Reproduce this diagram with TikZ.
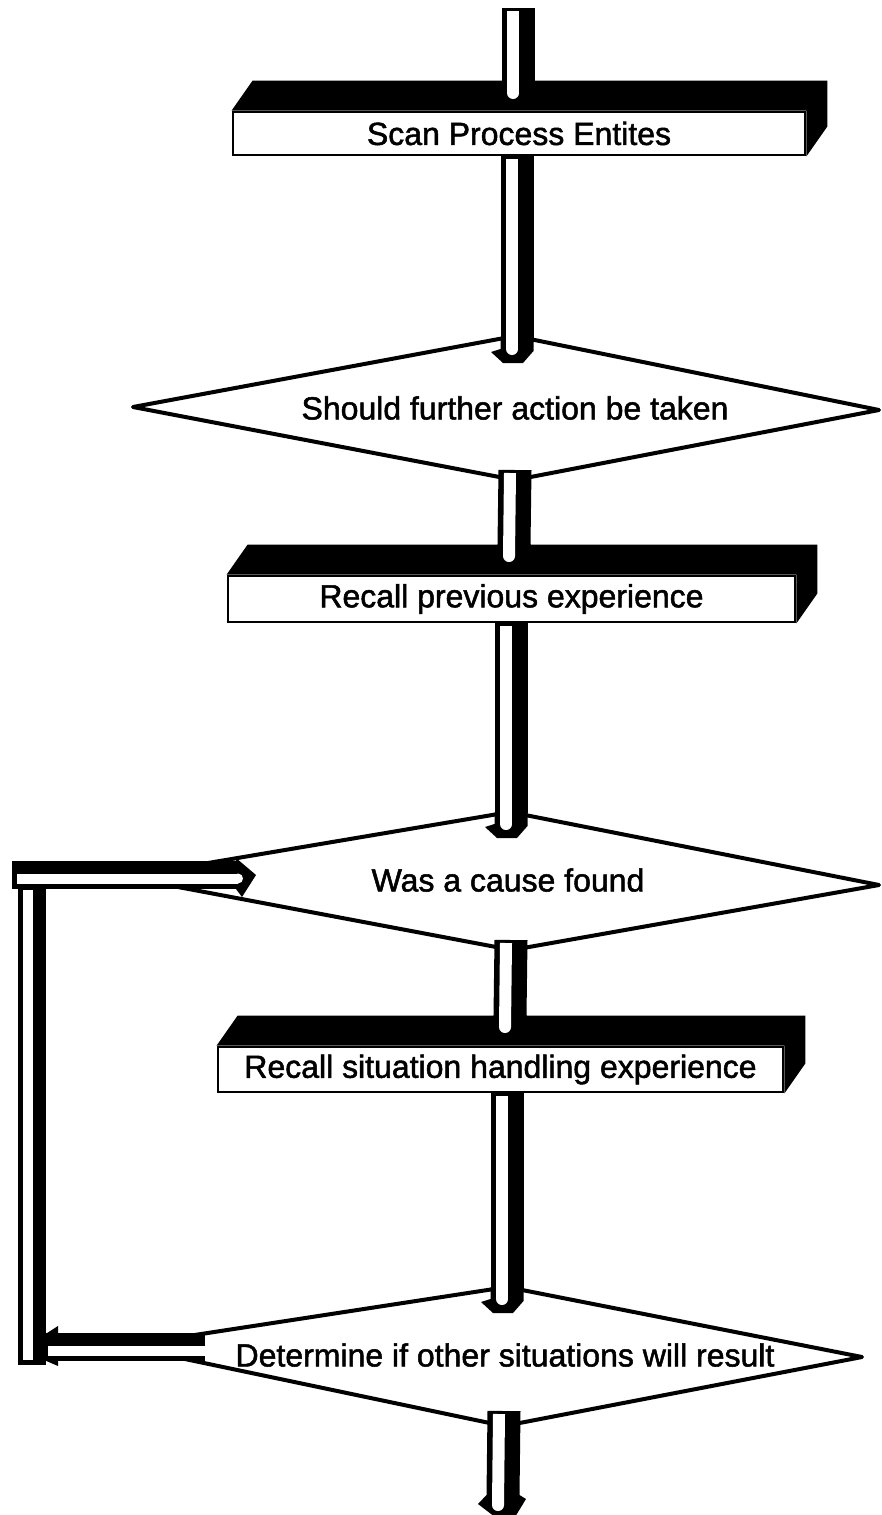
\documentclass[tikz,border=0pt]{standalone}
\usepackage{fontspec}
\setmainfont{Liberation Sans}[FakeBold=1.6]
\usetikzlibrary{calc}

\tikzset{
  box/.style={draw=black, line width=1.4pt, fill=white, inner sep=0pt,
              font=\fontsize{16}{19}\selectfont},
  dtext/.style={inner sep=0pt, font=\fontsize{16}{19}\selectfont},
  decision/.style={draw=black, line width=2pt, fill=white, line join=round},
  shell/.style={line width=16.5pt, draw=black},
  core/.style={line width=6pt, draw=white},
  lshell/.style={line width=14pt, draw=black},
  lcore/.style={line width=5pt, draw=white},
}

% dark top face and right side of a block node
\newcommand\blockdepth[1]{%
  \fill[black] (#1.north west) -- ($(#1.north west)+(21,-30)$)
    -- ($(#1.north east)+(21,-30)$) -- ($(#1.south east)+(21,-30)$)
    -- (#1.south east) -- (#1.north east) -- cycle;}

% tube from #1 ending in a short blunt tip at #2
\newcommand\pipetip[2]{%
  \draw[shell] (#1) -- ($(#2)+(0,-25)$);
  \fill[black] ($(#2)+(-26,-11)$) -- ($(#2)+(-14,0)$) -- ($(#2)+(6,0)$)
    -- ($(#2)+(16.5,-12)$) -- ($(#2)+(16.5,-26)$) -- ($(#2)+(-16.5,-26)$)
    -- ($(#2)+(-16.5,-14)$) -- cycle;
  \draw[core] ($(#1)+(-5,3)$) -- ($(#2)+(-5,-14)$);
  \fill[white] ($(#2)+(-5,-14)$) circle[radius=6];}

% tube from #1 ending in a flared arrow head at #2
\newcommand\pipeend[2]{%
  \draw[shell] (#1) -- ($(#2)+(0,-21)$);
  \fill[black] ($(#2)+(-25,-13)$) -- ($(#2)+(-16.5,-22)$) -- ($(#2)+(16.5,-22)$)
    -- ($(#2)+(23,-18)$) -- ($(#2)+(12,0)$) -- ($(#2)+(-8,0)$) -- cycle;
  \draw[core] ($(#1)+(-5,3)$) -- ($(#2)+(-5,-12)$);
  \fill[white] ($(#2)+(-5,-12)$) circle[radius=6];}

\begin{document}
\begin{tikzpicture}[x=0.5pt,y=-0.5pt]
\useasboundingbox (0,0) rectangle (882,1515);

% ---- decision outlines ----
\coordinate (d1n) at (515,336);  \coordinate (d1e) at (879,410);
\coordinate (d1s) at (515,480);  \coordinate (d1w) at (133,407);
\coordinate (d2n) at (510,812);  \coordinate (d2e) at (879,885);
\coordinate (d2s) at (512,950);  \coordinate (d2w) at (125,877);
\coordinate (d4n) at (507,1287); \coordinate (d4e) at (862,1357);
\coordinate (d4s) at (504,1426); \coordinate (d4w) at (123,1346);
\draw[decision] (d1n) -- (d1e) -- (d1s) -- (d1w) -- cycle;
\draw[decision] (d2n) -- (d2e) -- (d2s) -- (d2w) -- cycle;
\draw[decision] (d4n) -- (d4e) -- (d4s) -- (d4w) -- cycle;

% ---- process blocks ----
\node[box, minimum width=286pt, minimum height=21.5pt] (b1) at (519,133.5) {Scan Process Entites};
\blockdepth{b1}
\node[box, minimum width=283.5pt, minimum height=23pt] (b2) at (511.5,599) {Recall previous experience};
\blockdepth{b2}
\node[box, minimum width=282.5pt, minimum height=22.5pt] (b3) at (500.5,1069.5) {Recall situation handling experience};
\blockdepth{b3}

% ---- decision labels ----
\node[dtext] (q1) at (515,408) {Should further action be taken};
\node[dtext] (q2) at (508,880) {Was a cause found};
\node[dtext] (q4) at (505,1355) {Determine if other situations will result};

% ---- tube ends ----
\coordinate (start) at (518,8);
\coordinate (b1tip) at (518,107);
\coordinate (d1tip) at (517,363);
\coordinate (d1out) at (515,470);
\coordinate (b2tip) at (514,570);
\coordinate (d2tip) at (511,838);
\coordinate (d2out) at (511,940);
\coordinate (b3tip) at (510,1041);
\coordinate (d4tip) at (507,1313);
\coordinate (d4out) at (504,1411);
\coordinate (finish) at (503,1517);

% ---- main flow ----
\pipetip{start}{b1tip}
\pipetip{b1.south -| d1tip}{d1tip}
\pipetip{d1out}{b2tip}
\pipetip{b2.south -| d2tip}{d2tip}
\pipetip{d2out}{b3tip}
\pipetip{b3.south -| d4tip}{d4tip}
\pipeend{d4out}{finish}

% ---- return loop ----
\coordinate (lpin) at (205,1347);
\coordinate (lpbot) at (44,1347);
\coordinate (lpvb) at (32,1365);
\coordinate (lpvt) at (32,870);
\coordinate (lptl) at (12,875);
\coordinate (lptip) at (256,875);

\draw[lshell] (lpvb) -- (lpvt);
\draw[lshell] (lptl) -- ($(lptip)+(-18,0)$);
\fill[black] ($(lptip)+(-20,-17)$) -- (lptip) -- ($(lptip)+(-14,22)$)
  -- ($(lptip)+(-20,14)$) -- cycle;
\draw[lcore] ($(lptl)+(5,3.5)$) -- ($(lptip)+(-18,3.5)$);
\fill[white] ($(lptip)+(-18,3.5)$) circle[radius=5];
\draw[lcore] ($(lpvt)+(-4,20)$) -- ($(lpvb)+(-4,-5)$);

\draw[lshell] (lpin) -- (lpbot);
\fill[black] ($(lpbot)+(14,-21)$) -- ($(lpbot)+(0,-12)$) -- ($(lpbot)+(0,13)$)
  -- ($(lpbot)+(14,19)$) -- cycle;
\draw[lcore] ($(lpin)+(1,4)$) -- ($(lpbot)+(4,4)$);
\end{tikzpicture}
\end{document}
